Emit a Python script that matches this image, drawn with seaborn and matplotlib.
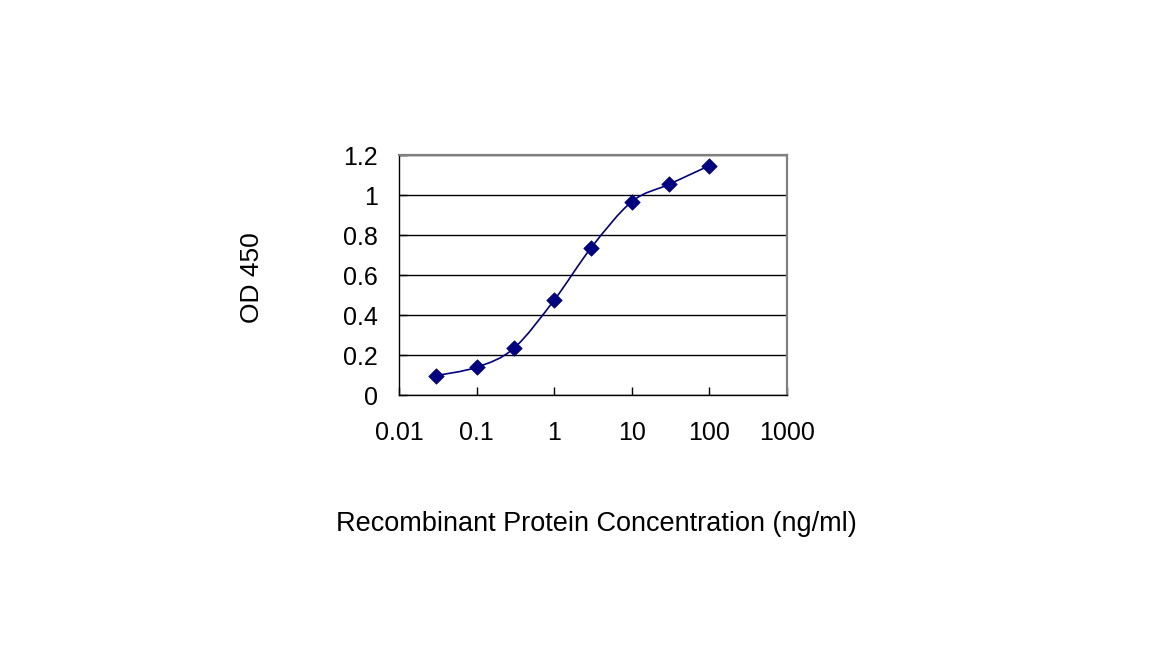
import numpy as np
import matplotlib
matplotlib.use("Agg")
import matplotlib.pyplot as plt
import seaborn as sns
from matplotlib.path import Path
from matplotlib.patches import PathPatch
from matplotlib.ticker import FixedLocator, FixedFormatter, NullLocator

# data
conc = [0.03, 0.1, 0.3, 1, 3, 10, 30, 100]
od450 = [0.097, 0.139, 0.233, 0.475, 0.737, 0.967, 1.053, 1.147]
x_ticks = [0.01, 0.1, 1, 10, 100, 1000]
x_labels = ["0.01", "0.1", "1", "10", "100", "1000"]
y_ticks = [0, 0.2, 0.4, 0.6, 0.8, 1, 1.2]
y_labels = ["0", "0.2", "0.4", "0.6", "0.8", "1", "1.2"]

navy = "#000080"

sns.set_style("white")
plt.rcParams["font.family"] = ["Liberation Sans", "DejaVu Sans"]
plt.rcParams["text.color"] = "black"
plt.rcParams["axes.labelcolor"] = "black"
plt.rcParams["xtick.color"] = "black"
plt.rcParams["ytick.color"] = "black"

fig = plt.figure(figsize=(11.52, 6.48), dpi=100)
ax = fig.add_axes([0.3464, 0.3904, 0.3368, 0.3704])
ax.set_xscale("log")
ax.set_xlim(0.01, 1000)
ax.set_ylim(0, 1.2)

# smoothed line (Excel style bezier through the points, in log-x space)
u = np.log10(conc)
v = np.array(od450)
pts = np.column_stack([u, v])
verts = [pts[0]]
codes = [Path.MOVETO]
n = len(pts)
for i in range(n - 1):
    p0, p3 = pts[i], pts[i + 1]
    prev = pts[i - 1] if i > 0 else pts[i]
    nxt = pts[i + 2] if i + 2 < n else pts[i + 1]
    c1 = p0 + (p3 - prev) / 6
    c2 = p3 - (nxt - p0) / 6
    verts += [c1, c2, p3]
    codes += [Path.CURVE4] * 3
verts = np.array(verts)
verts[:, 0] = 10 ** verts[:, 0]
ax.add_patch(PathPatch(Path(verts, codes), fill=False, edgecolor=navy,
                       lw=1.2, transform=ax.transData, zorder=3))

sns.scatterplot(x=conc, y=od450, marker="D", s=62, color=navy,
                edgecolor=navy, linewidth=0.5, ax=ax, zorder=4)

# grid + spines
ax.set_axisbelow(True)
ax.yaxis.grid(True, color="black", lw=1)
ax.xaxis.grid(False)
for side in ["top", "right"]:
    ax.spines[side].set_color("#808080")
    ax.spines[side].set_linewidth(1.6)
for side in ["left", "bottom"]:
    ax.spines[side].set_color("black")
    ax.spines[side].set_linewidth(1)

ax.xaxis.set_major_locator(FixedLocator(x_ticks))
ax.xaxis.set_major_formatter(FixedFormatter(x_labels))
ax.xaxis.set_minor_locator(NullLocator())
ax.yaxis.set_major_locator(FixedLocator(y_ticks))
ax.yaxis.set_major_formatter(FixedFormatter(y_labels))
ax.tick_params(axis="x", direction="in", length=6, width=1,
               pad=19, labelsize=18, bottom=True)
ax.tick_params(axis="y", direction="in", length=6, width=1,
               pad=15, labelsize=18, left=True)

ax.set_xlabel("Recombinant Protein Concentration (ng/ml)", fontsize=19.5)
ax.set_ylabel("OD 450", fontsize=19)
ax.xaxis.set_label_coords(0.508, -0.482)
ax.yaxis.set_label_coords(-0.348, 0.49)

fig.savefig("out.png", dpi=100)
